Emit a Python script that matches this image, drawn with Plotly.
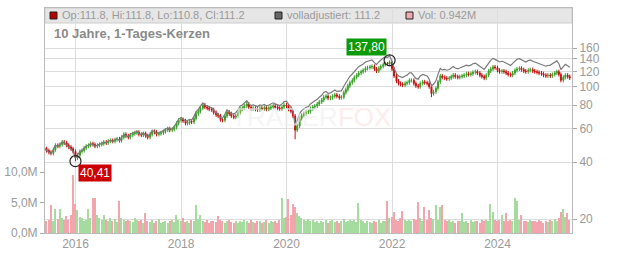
import numpy as np
import pandas as pd
import plotly.graph_objects as go

# ---------------- data ----------------
start_date = "2015-06-01"          # semi-monthly candles
close = [
    47, 46, 45, 44.5, 46.5, 49, 48.5, 49.5, 51, 50.5, 49, 48, 47, 45.5, 42,
    43.5, 45.5, 46, 47.5, 48.5, 49, 50, 49.5, 48.5, 49, 49.5, 50, 51, 50.5, 51.5, 52,
    51.5, 52.5, 53, 52, 54, 56, 55, 54, 55.5, 56.5, 57, 57.5, 56, 55.5, 56.5, 55, 54,
    56, 58, 57.5, 56, 56.5, 57, 58, 59, 60, 59, 59.5, 61, 64,
    66.5, 67, 66, 64, 64.5, 65.5, 65, 68, 72, 74, 77, 80,
    78, 77, 76, 75.5, 73, 71, 70, 67, 66.5, 70, 73.5, 72, 70, 69,
    70, 73, 76, 77, 79, 81, 78, 76.5, 77, 76, 75.5, 77, 76.5, 77.5,
    76, 77, 78, 79, 78, 77, 76.5, 78, 80, 79, 76, 74, 70,
    59, 62, 68, 70.5, 72, 73.5, 74, 76.5, 78, 79, 81, 83,
    85, 88, 89, 87, 87.5, 89, 90.5, 89, 87.5, 88, 93, 96.5, 101, 105,
    108, 112, 115, 118, 120, 122, 125, 126, 127, 128, 124, 121, 125, 128, 131, 133, 132, 135,
    124, 114, 107, 104, 103, 102, 104, 105, 108, 108, 104, 101, 100, 104, 106, 105, 104, 100, 92, 94, 98, 106, 114,
    112, 111, 110, 111, 113, 115, 113, 112, 113, 114, 115, 117, 116, 117, 119, 120, 118, 115, 113, 111,
    115, 121, 124, 127, 126, 122, 120, 121, 120, 118, 116, 115, 118, 122, 124, 125, 123, 121, 120, 122,
    123, 121, 120, 119, 118, 117, 115, 114, 115, 114, 116, 118, 120, 116, 108, 112, 115, 113, 111.2,
]
first_open = 47.5
# typical intra-period swing beyond open/close, read from the band thickness
wick_pct = 0.025
# individual extremes (index -> value)
special_lows = {14: 40.41, 114: 52.7, 176: 88.0}
special_highs = {155: 135.5, 156: 135.0, 157: 137.80, 158: 136.0}

# dividend adjustment factor of the "volladjustiert" line, per calendar year
adj_years = [2015, 2016, 2017, 2018, 2019, 2020, 2021, 2022, 2023, 2024, 2025]
adj_factor = [1.00, 1.00, 1.01, 1.025, 1.04, 1.06, 1.08, 1.095, 1.11, 1.125, 1.14]

volume_m = [
    2.4, 1.9, 2.2, 4.6, 2.0, 3.9, 2.3, 3.9, 2.5, 2.1, 2.8, 2.2, 3.0, 9.5, 4.8,
    3.7, 2.6, 2.4, 2.0, 2.2, 4.0, 2.5, 5.7, 5.7, 2.9, 2.4, 2.1, 3.0, 2.2, 1.9, 2.4,
    2.0, 2.3, 1.8, 5.2, 2.4, 2.1, 1.9, 2.2, 2.0, 1.8, 2.5, 2.1, 1.9, 2.2, 1.7, 3.2, 2.0,
    1.8, 2.1, 1.7, 1.9, 2.3, 1.6, 1.8, 2.0, 1.7, 1.9, 2.2, 1.8, 3.0,
    2.1, 1.9, 2.4, 1.8, 2.0, 1.7, 2.2, 1.9, 4.6, 2.3, 2.9, 2.0,
    1.8, 2.1, 1.7, 1.9, 2.0, 1.8, 2.8, 2.2, 2.0, 1.7, 1.9, 2.1, 1.8, 1.6,
    1.9, 1.7, 2.0, 1.8, 2.2, 1.9, 1.7, 2.1, 1.8, 1.6, 1.9, 2.0, 1.7, 1.8,
    2.1, 1.7, 1.9, 1.8, 2.0, 1.7, 2.2, 5.8, 2.4, 2.6, 5.6, 3.0, 4.8,
    4.2, 3.3, 2.8, 2.5, 2.2, 2.0, 2.3, 1.9, 2.1, 1.8, 2.0, 1.7,
    1.9, 1.8, 2.1, 1.7, 1.9, 2.2, 1.8, 2.0, 1.7, 1.9, 2.3, 1.8, 2.0, 2.2,
    1.9, 2.1, 1.8, 5.0, 2.2, 1.9, 1.7, 2.0, 1.8, 1.6, 1.9, 1.8, 2.1, 1.7, 2.0, 1.9, 5.3, 2.4,
    2.6, 3.4, 2.2, 2.0, 2.4, 3.6, 2.1, 1.9, 2.2, 2.0, 2.3, 2.1, 5.1, 2.4, 2.0, 4.3, 2.2, 3.7, 2.5, 2.3, 4.6, 2.1, 4.2,
    4.6, 2.2, 1.9, 2.1, 1.8, 2.0, 1.7, 1.9, 2.0, 3.2, 1.8, 1.9, 1.7, 2.1, 1.8, 2.0, 1.9, 1.7, 2.2, 1.9,
    2.1, 2.0, 4.7, 3.5, 2.2, 1.9, 2.1, 3.0, 2.0, 3.3, 1.9, 2.2, 2.0, 5.7, 5.2, 2.1, 3.0, 1.9, 2.0, 1.8,
    2.1, 1.9, 2.0, 1.8, 2.2, 1.9, 1.7, 2.0, 1.8, 2.1, 1.9, 2.3, 2.0, 2.4, 3.5, 3.9, 2.6, 3.2, 2.2,
]

legend_ohlc = "Op:111.8, Hi:111.8, Lo:110.8, Cl:111.2"
legend_adj = "volladjustiert: 111.2"
legend_vol = "Vol: 0.942M"
title_text = "10 Jahre, 1-Tages-Kerzen"
price_ticks = [20, 40, 60, 80, 100, 120, 140, 160]
vol_ticks = [0, 5e6, 10e6]
vol_ticktext = ["0,0M", "5,0M", "10,0M"]

# ---------------- derived series ----------------
n = len(close)
dates = pd.date_range(start=start_date, periods=n, freq="SMS")
close_a = np.array(close, dtype=float)
open_a = np.concatenate([[first_open], close_a[:-1]])
high_a = np.maximum(open_a, close_a) * (1 + wick_pct)
low_a = np.minimum(open_a, close_a) * (1 - wick_pct)
for k, v in special_lows.items():
    low_a[k] = v
for k, v in special_highs.items():
    high_a[k] = v
fac_map = dict(zip(adj_years, adj_factor))
adj = close_a * np.array([fac_map[d.year] for d in dates])
vol = np.array(volume_m) * 1e6
up = close_a >= open_a

GREEN = "#3aa02a"
RED = "#c81010"
VGREEN = "#a6dba0"
VPINK = "#f2a5ad"
GRID = "#dddddd"
TXT = "#9a9a9a"
FONT = "Liberation Sans, Arial, sans-serif"

fig = go.Figure()

# volume (left axis)
fig.add_trace(go.Bar(
    x=dates, y=vol, yaxis="y2",
    marker=dict(color=[VGREEN if u else VPINK for u in up], line=dict(width=0)),
    width=15 * 86400000 * 0.7, showlegend=False, hoverinfo="skip",
))

# adjusted line
fig.add_trace(go.Scatter(
    x=dates, y=adj, mode="lines", line=dict(color="#7a7a7a", width=1.2),
    showlegend=False, hoverinfo="skip",
))

# candles
fig.add_trace(go.Candlestick(
    x=dates, open=open_a, high=high_a, low=low_a, close=close_a,
    increasing=dict(line=dict(color=GREEN, width=1), fillcolor=GREEN),
    decreasing=dict(line=dict(color=RED, width=1), fillcolor=RED),
    whiskerwidth=0, showlegend=False, hoverinfo="skip",
))

# extreme markers
imax = int(np.argmax(high_a))
imin = int(np.argmin(low_a))
fig.add_trace(go.Scatter(
    x=[dates[imax], dates[imin]], y=[high_a[imax], low_a[imin]], mode="markers",
    marker=dict(symbol="circle-open", size=11, color="#222222", line=dict(width=1.2)),
    showlegend=False, hoverinfo="skip",
))

def de(v):
    return f"{v:.2f}".replace(".", ",")

annotations = [
    dict(x=dates[imax], y=np.log10(high_a[imax]), xref="x", yref="y", text=de(high_a[imax]),
         showarrow=False, xanchor="right", yanchor="bottom", xshift=-3, yshift=4,
         bgcolor="#0a9a0a", font=dict(color="white", size=12, family=FONT), borderpad=1),
    dict(x=dates[imin], y=np.log10(low_a[imin]), xref="x", yref="y", text=de(low_a[imin]),
         showarrow=False, xanchor="left", yanchor="top", xshift=3, yshift=-3,
         bgcolor="#cc0000", font=dict(color="white", size=12, family=FONT), borderpad=1),
    # watermark
    dict(x=(311 - 45) / 527, y=1 - (117 - 8) / 225, xref="paper", yref="paper",
         text="<span style='color:#efefef'>TRADER</span><span style='color:#fbe2e2'>FOX</span>",
         showarrow=False, font=dict(size=26, family=FONT, color="#efefef"), opacity=0.6,
         xanchor="center", yanchor="middle"),
    # legend band texts
    dict(x=(60 - 45) / 527, y=1 - 7.5 / 225, xref="paper", yref="paper", text=legend_ohlc,
         showarrow=False, xanchor="left", yanchor="middle", font=dict(size=11, color=TXT, family=FONT)),
    dict(x=(285 - 45) / 527, y=1 - 7.5 / 225, xref="paper", yref="paper", text=legend_adj,
         showarrow=False, xanchor="left", yanchor="middle", font=dict(size=11, color=TXT, family=FONT)),
    dict(x=(416 - 45) / 527, y=1 - 7.5 / 225, xref="paper", yref="paper", text=legend_vol,
         showarrow=False, xanchor="left", yanchor="middle", font=dict(size=11, color=TXT, family=FONT)),
    dict(x=(52 - 45) / 527, y=1 - 26 / 225, xref="paper", yref="paper", text=f"<b>{title_text}</b>",
         showarrow=False, xanchor="left", yanchor="middle", font=dict(size=13, color="#8a8a8a", family=FONT)),
]

def px_rect(x0, x1, y0, y1):
    return dict(x0=(x0 - 45) / 527, x1=(x1 - 45) / 527, y0=1 - (y1 - 8) / 225, y1=1 - (y0 - 8) / 225)

shapes = [
    dict(type="rect", xref="paper", yref="paper", **px_rect(45, 572, 8, 23),
         fillcolor="#e6e6e6", line=dict(color="#cccccc", width=1), layer="below"),
    dict(type="rect", xref="paper", yref="paper", **px_rect(50, 57, 12, 19),
         fillcolor="#b80000", line=dict(color="#222", width=1)),
    dict(type="rect", xref="paper", yref="paper", **px_rect(275, 282, 12, 19),
         fillcolor="#666666", line=dict(color="#222", width=1)),
    dict(type="rect", xref="paper", yref="paper", **px_rect(406, 413, 12, 19),
         fillcolor="#eeaab2", line=dict(color="#222", width=1)),
]

fig.update_layout(
    width=632, height=253,
    margin=dict(l=45, r=60, t=8, b=20, autoexpand=False),
    paper_bgcolor="white", plot_bgcolor="white",
    font=dict(family=FONT, size=12, color=TXT),
    showlegend=False, bargap=0,
    annotations=annotations, shapes=shapes,
    xaxis=dict(
        type="date", range=["2015-06-04", "2025-05-31"],
        rangeslider=dict(visible=False), automargin=False,
        tick0="2016-01-01", dtick="M24", tickformat="%Y",
        showgrid=True, gridcolor=GRID, gridwidth=1,
        showline=True, linecolor="#bbbbbb", mirror=True,
        ticks="", tickfont=dict(size=12, color=TXT), zeroline=False,
    ),
    yaxis=dict(
        type="log", side="right", range=[1.2273, 2.4153], automargin=False,
        tickvals=price_ticks, ticktext=[str(v) for v in price_ticks],
        showgrid=True, gridcolor=GRID, gridwidth=1,
        showline=True, linecolor="#bbbbbb",
        ticks="outside", ticklen=4, tickcolor="#aaaaaa",
        tickfont=dict(size=12, color=TXT), zeroline=False,
    ),
    yaxis2=dict(
        overlaying="y", side="left", range=[0, 36.9e6], automargin=False,
        tickvals=vol_ticks, ticktext=vol_ticktext,
        showgrid=False, showline=True, linecolor="#bbbbbb",
        ticks="outside", ticklen=4, tickcolor="#aaaaaa",
        tickfont=dict(size=12, color=TXT), zeroline=False,
    ),
)

fig.write_html("out.html")
